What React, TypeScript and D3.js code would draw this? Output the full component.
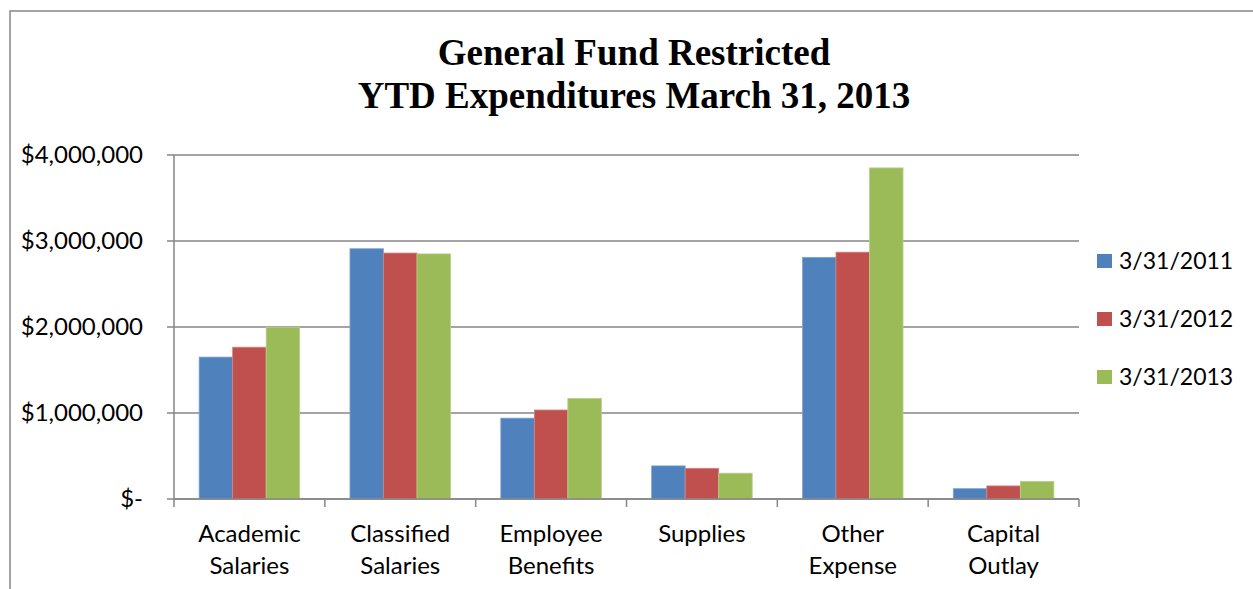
import React from 'react';
import * as d3 from 'd3';

const categories = [
  ['Academic', 'Salaries'],
  ['Classified', 'Salaries'],
  ['Employee', 'Benefits'],
  ['Supplies'],
  ['Other', 'Expense'],
  ['Capital', 'Outlay'],
];
const seriesNames = ['3/31/2011', '3/31/2012', '3/31/2013'];
const seriesColors = ['#4F81BD', '#C0504D', '#9BBB59'];
const seriesStrokes = ['#7FA3D0', '#D08482', '#B8CF89'];

const values2011 = [1650000, 2910000, 940000, 385000, 2810000, 120000];
const values2012 = [1765000, 2860000, 1035000, 357000, 2870000, 152000];
const values2013 = [1997000, 2850000, 1170000, 300000, 3850000, 205000];
const seriesValues = [values2011, values2012, values2013];

const yTicks = [0, 1000000, 2000000, 3000000, 4000000];
const yTickLabels = ['$-', '$1,000,000', '$2,000,000', '$3,000,000', '$4,000,000'];

const titleLines = ['General Fund Restricted', 'YTD Expenditures March 31, 2013'];

const W = 1253;
const H = 589;
const plot = { left: 174, right: 1079, top: 155, bottom: 499 };
const gridColor = '#868686';
const labelFont = 'Lato, "Open Sans", sans-serif';

export default function App() {
  const keys = categories.map((c) => c.join(' '));
  const x = d3.scaleBand<string>().domain(keys).range([plot.left, plot.right]).padding(0);
  const xInner = d3
    .scaleBand<string>()
    .domain(seriesNames)
    .range([0, x.bandwidth()])
    .paddingInner(0)
    .paddingOuter(0.75);
  const y = d3.scaleLinear().domain([0, 4000000]).range([plot.bottom, plot.top]);

  const boundaries = [...keys.map((k) => x(k) as number), plot.right];

  return (
    <svg
      width={W}
      height={H}
      style={{ position: 'absolute', left: 0, top: 0, background: '#fff' }}
    >
      <rect x={0} y={0} width={W} height={H} fill="#fff" />
      <rect x={10} y={11} width={1260} height={600} fill="none" stroke={gridColor} strokeWidth={1.5} />

      {titleLines.map((t, i) => (
        <text
          key={t}
          x={634}
          y={65 + i * 43}
          textAnchor="middle"
          fontFamily='"Liberation Serif", "Times New Roman", serif'
          fontWeight="bold"
          fontSize={37}
          fill="#000"
        >
          {t}
        </text>
      ))}

      {yTicks.map((t) => (
        <line
          key={'g' + t}
          x1={plot.left - 7}
          x2={plot.right}
          y1={y(t)}
          y2={y(t)}
          stroke={gridColor}
          strokeWidth={1.5}
        />
      ))}

      {seriesValues.map((vals, si) =>
        vals.map((v, ci) => (
          <rect
            key={si + '-' + ci}
            x={(x(keys[ci]) as number) + (xInner(seriesNames[si]) as number)}
            y={y(v)}
            width={xInner.bandwidth()}
            height={y(0) - y(v)}
            fill={seriesColors[si]}
            stroke={seriesStrokes[si]}
            strokeWidth={0.8}
          />
        ))
      )}

      <line x1={plot.left} x2={plot.left} y1={plot.top} y2={plot.bottom} stroke={gridColor} strokeWidth={1.5} />
      <line x1={plot.left} x2={plot.right} y1={plot.bottom} y2={plot.bottom} stroke={gridColor} strokeWidth={1.5} />
      {boundaries.map((b, i) => (
        <line key={'t' + i} x1={b} x2={b} y1={plot.bottom} y2={plot.bottom + 8} stroke={gridColor} strokeWidth={1.5} />
      ))}

      {yTicks.map((t, i) => (
        <text
          key={'yl' + t}
          x={143}
          y={y(t) + 8}
          textAnchor="end"
          fontFamily={labelFont}
          fontSize={24}
          fill="#000"
        >
          {yTickLabels[i]}
        </text>
      ))}

      {categories.map((lines, ci) => (
        <text
          key={'c' + ci}
          textAnchor="middle"
          fontFamily={labelFont}
          fontSize={24}
          fill="#000"
        >
          {lines.map((l, li) => (
            <tspan key={l} x={(x(keys[ci]) as number) + x.bandwidth() / 2} y={542 + li * 32}>
              {l}
            </tspan>
          ))}
        </text>
      ))}

      {seriesNames.map((s, si) => (
        <g key={s} transform={`translate(1097, ${254 + si * 58})`}>
          <rect width={15} height={14} fill={seriesColors[si]} />
          <text x={22} y={15} fontFamily={labelFont} fontSize={23} fill="#000">
            {s}
          </text>
        </g>
      ))}
    </svg>
  );
}
